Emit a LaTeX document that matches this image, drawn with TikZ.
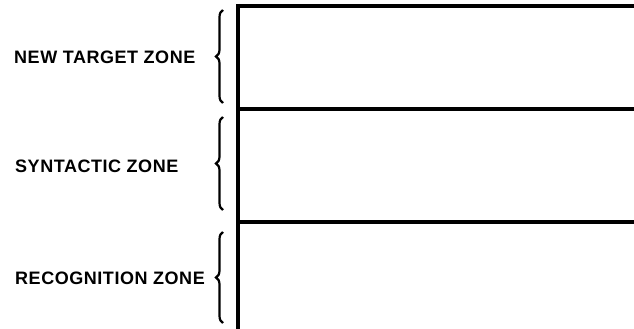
\documentclass[tikz,border=0pt]{standalone}
\usepackage{fontspec}
\setmainfont{Liberation Sans}
\usetikzlibrary{decorations.pathreplacing}
\begin{document}
\begin{tikzpicture}[x=1pt,y=-1pt,
  zonelabel/.style={anchor=west,inner sep=0pt,font=\fontsize{18}{21}\selectfont\bfseries\addfontfeature{LetterSpace=3}},
  frame/.style={line width=3.4pt},
  zonebrace/.style={line width=2.2pt,decorate,decoration={brace,amplitude=7pt,aspect=0.5}}]
\useasboundingbox (0,0) rectangle (634,329);
% frame
\coordinate (vt) at (238,4);
\coordinate (vb) at (238,329);
\coordinate (t1) at (238,6);   \coordinate (t2) at (634,6);
\coordinate (m1) at (238,109); \coordinate (m2) at (634,109);
\coordinate (b1) at (238,222); \coordinate (b2) at (634,222);
\draw[frame] (vt) -- (vb);
\draw[frame] (t1) -- (t2);
\draw[frame] (m1) -- (m2);
\draw[frame] (b1) -- (b2);
% labels
\node[zonelabel] (nt) at (14,57) {NEW TARGET ZONE};
\node[zonelabel] (sy) at (15,166) {SYNTACTIC ZONE};
\node[zonelabel] (rc) at (15,278) {RECOGNITION ZONE};
% braces
\coordinate (a1) at (223,103); \coordinate (a2) at (223,10);
\coordinate (c1) at (223,210); \coordinate (c2) at (223,117);
\coordinate (d1) at (223,323); \coordinate (d2) at (223,232);
\draw[zonebrace] (a1) -- (a2);
\draw[zonebrace] (c1) -- (c2);
\draw[zonebrace] (d1) -- (d2);
\end{tikzpicture}
\end{document}
